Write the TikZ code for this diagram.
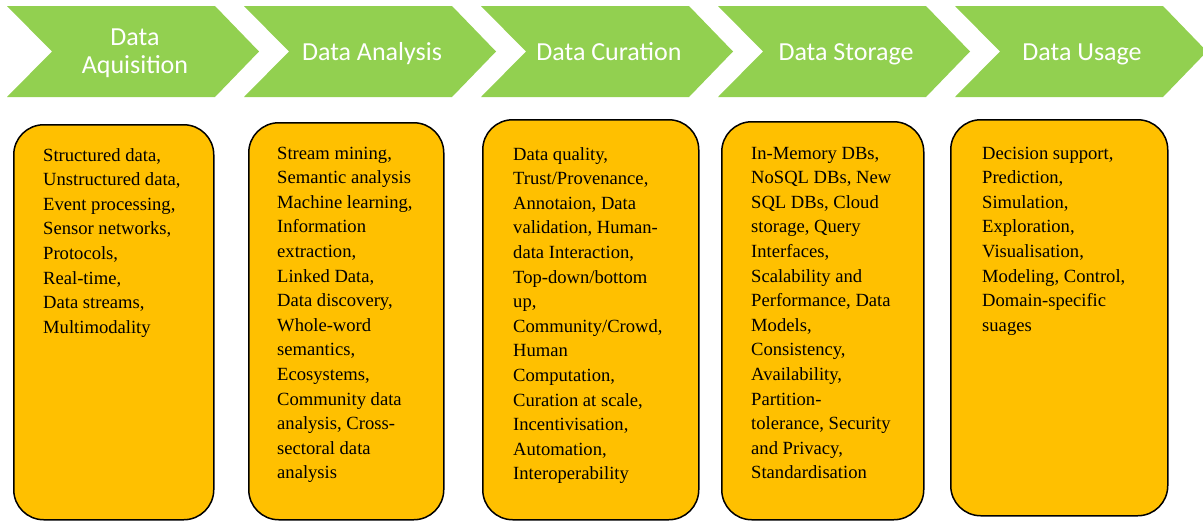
\documentclass[tikz,border=0pt]{standalone}
\usepackage{fontspec}
\setmainfont{Liberation Serif}
\newfontfamily\chevfont{Carlito}
\definecolor{chevgreen}{HTML}{92D050}
\definecolor{boxorange}{HTML}{FFC000}
\tikzset{
  chevron/.style={fill=chevgreen, draw=none},
  chevtext/.style={text=white, font=\chevfont\fontsize{26}{28}\selectfont, align=center, inner sep=0pt},
  stagebox/.style={draw=black, line width=1.5pt, fill=boxorange, rounded corners=30pt, anchor=north west, inner sep=0pt},
  boxtext/.style={anchor=base west, inner sep=0pt, font=\fontsize{18.6}{24.6}\selectfont}
}
\newcommand{\chev}[1]{%
  \path[chevron] (#1,6) -- ++(208,0) -- ++(44,45.5) -- ++(-44,45.5) -- ++(-208,0) -- ++(45,-45.5) -- cycle;}
\newcommand{\btext}[1]{\parbox[t]{180pt}{\raggedright #1}}
\begin{document}
\begin{tikzpicture}[x=1pt,y=-1pt]
\useasboundingbox (0,0) rectangle (1203,520);
\clip (0,0) rectangle (1203,520);
\fill[white] (0,0) rectangle (1203,520);
% chevrons
\chev{7}
\chev{244}
\chev{481}
\chev{718}
\chev{955}
\node[chevtext, anchor=base] (c1) at (135,45) {Data};
\node[chevtext, anchor=base] (c1b) at (135,73) {Aquisition};
\node[chevtext, anchor=base] (c2) at (372,60) {Data Analysis};
\node[chevtext, anchor=base] (c3) at (609,60) {Data Curation};
\node[chevtext, anchor=base] (c4) at (846,60) {Data Storage};
\node[chevtext, anchor=base] (c5) at (1082,60) {Data Usage};
% boxes
\node[stagebox, minimum width=200pt, minimum height=395pt] (b1) at (13,124) {};
\node[stagebox, minimum width=195pt, minimum height=397pt] (b2) at (248,122) {};
\node[stagebox, minimum width=216pt, minimum height=400pt] (b3) at (482,119) {};
\node[stagebox, minimum width=202pt, minimum height=398pt] (b4) at (721,121) {};
\node[stagebox, minimum width=217pt, minimum height=396pt] (b5) at (950,119) {};
% texts
\node[boxtext] (t1) at (43,161) {\btext{Structured data,\\Unstructured data,\\Event processing,\\Sensor networks,\\Protocols,\\Real-time,\\Data streams,\\Multimodality}};
\node[boxtext] (t2) at (277,159) {\btext{Stream mining,\\Semantic analysis\\Machine learning,\\Information\\extraction,\\Linked Data,\\Data discovery,\\Whole-word\\semantics,\\Ecosystems,\\Community data\\analysis, Cross-\\sectoral data\\analysis}};
\node[boxtext] (t3) at (513,160) {\btext{Data quality,\\Trust/Provenance,\\Annotaion, Data\\validation, Human-\\data Interaction,\\Top-down/bottom\\up,\\Community/Crowd,\\Human\\Computation,\\Curation at scale,\\Incentivisation,\\Automation,\\Interoperability}};
\node[boxtext] (t4) at (751,159) {\btext{In-Memory DBs,\\NoSQL DBs, New\\SQL DBs, Cloud\\storage, Query\\Interfaces,\\Scalability and\\Performance, Data\\Models,\\Consistency,\\Availability,\\Partition-\\tolerance, Security\\and Privacy,\\Standardisation}};
\node[boxtext] (t5) at (982,159) {\btext{Decision support,\\Prediction,\\Simulation,\\Exploration,\\Visualisation,\\Modeling, Control,\\Domain-specific\\suages}};
\end{tikzpicture}
\end{document}
